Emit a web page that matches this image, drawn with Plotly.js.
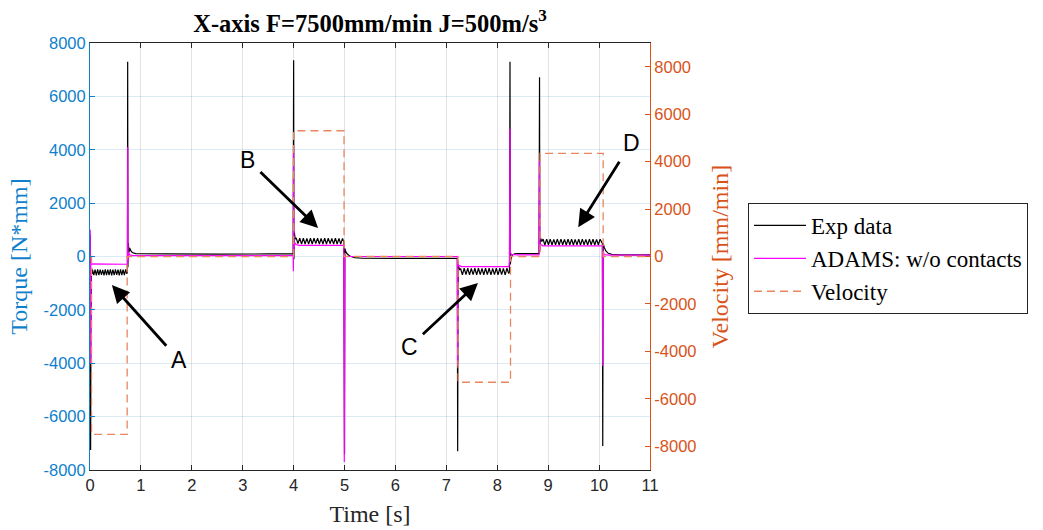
<!DOCTYPE html>
<html>
<head>
<meta charset="utf-8">
<script src="https://cdn.plot.ly/plotly-3.0.1.min.js"></script>
<style>
  html, body { margin: 0; padding: 0; background: #fff; }
  #chart { width: 1043px; height: 530px; }
</style>
</head>
<body>
<div id="chart"></div>
<script>
// ---- Data ----
const expTime = [
  0, 0.004, 0.008, 0.012, 0.018, 0.025, 0.035, 0.045,
  0.05, 0.075, 0.10, 0.125, 0.15, 0.175, 0.20, 0.225, 0.25, 0.275, 0.30, 0.325, 0.35, 0.375,
  0.40, 0.425, 0.45, 0.475, 0.50, 0.525, 0.55, 0.575, 0.60, 0.625, 0.65, 0.675, 0.70, 0.72,
  0.735, 0.74, 0.745, 0.752, 0.765, 0.78, 0.80, 0.83, 0.90, 1.5, 2.5, 3.5, 3.99,
  4.0, 4.006, 4.015, 4.03,
  4.05, 4.085, 4.12, 4.155, 4.19, 4.225, 4.26, 4.295, 4.33, 4.365, 4.40, 4.435, 4.47, 4.505,
  4.54, 4.575, 4.61, 4.645, 4.68, 4.715, 4.75, 4.785, 4.82, 4.855, 4.89, 4.925, 4.96, 4.985,
  5.0, 5.006, 5.02, 5.05, 5.10, 5.20, 5.35, 6.0, 7.2, 7.215,
  7.222, 7.23, 7.24, 7.26,
  7.28, 7.315, 7.35, 7.385, 7.42, 7.455, 7.49, 7.525, 7.56, 7.595, 7.63, 7.665, 7.70, 7.735,
  7.77, 7.805, 7.84, 7.875, 7.91, 7.945, 7.98, 8.015, 8.05, 8.085, 8.12, 8.155, 8.19, 8.225,
  8.24, 8.25, 8.256, 8.265, 8.28, 8.30, 8.34, 8.40, 8.82,
  8.83, 8.836, 8.85, 8.875,
  8.90, 8.935, 8.97, 9.005, 9.04, 9.075, 9.11, 9.145, 9.18, 9.215, 9.25, 9.285, 9.32, 9.355,
  9.39, 9.425, 9.46, 9.495, 9.53, 9.565, 9.60, 9.635, 9.67, 9.705, 9.74, 9.775, 9.81, 9.845,
  9.88, 9.915, 9.95, 9.985, 10.02, 10.055,
  10.065, 10.072, 10.08, 10.10, 10.13, 10.18, 10.25, 10.4, 11
];
const expTorque = [
  0, 820, -2000, -7250, -3000, -800, -450, -650,
  -500, -700, -490, -710, -480, -700, -490, -690, -500, -710, -480, -700, -490, -700,
  -480, -710, -490, -700, -480, -690, -490, -710, -480, -700, -490, -700, -480, -640,
  -600, 7300, -400, 500, 150, 320, 220, 150, 110, 95, 90, 95, 95,
  7350, -100, 900, 650,
  700, 480, 690, 470, 690, 470, 680, 470, 690, 470, 690, 480, 690, 470,
  680, 470, 690, 470, 690, 480, 680, 470, 690, 470, 680, 470, 680, 560,
  -7400, 300, 200, 100, 20, -40, -65, -70, -70, -70,
  -7300, -1200, -350, -500,
  -450, -690, -440, -680, -440, -690, -450, -680, -440, -690, -440, -680, -450, -690,
  -440, -680, -440, -690, -450, -680, -440, -690, -440, -680, -450, -690, -440, -640,
  -580, 7300, -300, -150, 0, 60, 100, 110, 110,
  6720, 200, 700, 560,
  650, 430, 650, 440, 650, 430, 640, 440, 650, 430, 650, 440, 640, 430,
  650, 440, 650, 430, 640, 440, 650, 430, 650, 440, 640, 430, 650, 440,
  650, 430, 640, 440, 650, 520,
  500, -7100, 500, 350, 220, 120, 80, 60, 60
];

const adamsTime = [
  0, 0.004, 0.01, 0.016, 0.03, 0.72, 0.735, 0.742, 0.748, 0.76, 0.78, 0.85,
  3.99, 3.995, 4.0, 4.006, 4.02, 4.05, 4.1, 4.985, 4.995, 5.005, 5.03,
  7.215, 7.222, 7.228, 7.24, 7.3, 8.23, 8.24, 8.25, 8.256, 8.28, 8.4,
  8.82, 8.83, 8.836, 8.85, 8.9, 10.065, 10.072, 10.08, 10.1, 10.2, 11
];
const adamsTorque = [
  0, 1000, -4000, -300, -280, -290, -290, 4100, -200, 150, 60, 35,
  30, -550, 4100, 200, 520, 450, 420, 420, -7700, 50, 0,
  0, -4100, -150, -330, -380, -380, -200, 4800, 150, 80, 60,
  60, 3600, 250, 450, 400, 400, -4100, 200, 70, 50, 50
];

const velTime = [0, 0.03, 0.03, 0.73, 0.73, 4.0, 4.0, 4.99, 4.99, 7.23, 7.23, 8.26, 8.26, 8.84, 8.84, 10.08, 10.08, 11];
const velValue = [0, 0, -7500, -7500, 0, 0, 5300, 5300, 0, 0, -5300, -5300, 0, 0, 4350, 4350, 0, 0];

const timeTicks = [0, 1, 2, 3, 4, 5, 6, 7, 8, 9, 10, 11];
const torqueTicks = [-8000, -6000, -4000, -2000, 0, 2000, 4000, 6000, 8000];
const torqueTickText = ['-8000', '-6000', '-4000', '-2000', '0', '2000', '4000', '6000', '8000'];
const velTicks = [-8000, -6000, -4000, -2000, 0, 2000, 4000, 6000, 8000];
const velTickText = ['-8000', '-6000', '-4000', '-2000', '0', '2000', '4000', '6000', '8000'];

// Labelled arrows (data units): label position and arrow head position
const labelNames = ['A', 'B', 'C', 'D'];
const labelTextX = [1.75, 3.10, 6.27, 10.63];
const labelTextY = [-3880, 3620, -3390, 4250];
const arrowHeadX = [0.43, 4.48, 7.62, 9.59];
const arrowHeadY = [-1070, 1070, -990, 1100];

// ---- Styling ----
const BLUE = '#0f7fcc';
const ORANGE = '#D95319';
const SERIF = 'Liberation Serif, Times New Roman, serif';
const SANS = 'Liberation Sans, Arial, sans-serif';

const traces = [
  {
    x: expTime, y: expTorque, type: 'scatter', mode: 'lines', name: 'Exp data',
    line: { color: '#000000', width: 1.2, simplify: false }
  },
  {
    x: adamsTime, y: adamsTorque, type: 'scatter', mode: 'lines', name: 'ADAMS: w/o contacts',
    line: { color: '#FF00FF', width: 1.2, simplify: false }
  },
  {
    x: velTime, y: velValue, type: 'scatter', mode: 'lines', name: 'Velocity', yaxis: 'y2',
    line: { color: '#E8875F', width: 1.3, dash: '8px,5px' }
  }
];

const annotations = labelNames.map((name, i) => ({
  x: arrowHeadX[i], y: arrowHeadY[i], xref: 'x', yref: 'y',
  ax: labelTextX[i], ay: labelTextY[i], axref: 'x', ayref: 'y',
  text: name, showarrow: true, arrowhead: 2, arrowsize: 1.25, arrowwidth: 2.8,
  arrowcolor: '#000000', standoff: 0, startstandoff: 5,
  font: { family: SANS, size: 23, color: '#000000' }
}));

const layout = {
  width: 1043, height: 530,
  paper_bgcolor: '#ffffff', plot_bgcolor: '#ffffff',
  margin: { l: 90, r: 393, t: 43, b: 60, pad: 0 },
  showlegend: true,
  title: {
    text: 'X-axis F=7500mm/min J=500m/s<sup>3</sup>',
    font: { family: SERIF, size: 24.5, color: '#000000', weight: 'bold' },
    x: 0.5, xref: 'paper', xanchor: 'center',
    y: 1 - 23 / 530, yref: 'container', yanchor: 'middle'
  },
  xaxis: {
    range: [0, 11], tickvals: timeTicks, ticktext: timeTicks.map(String),
    showgrid: true, gridcolor: 'rgba(38,38,38,0.13)', gridwidth: 1,
    zeroline: false, showline: true, linecolor: '#262626', linewidth: 1,
    mirror: 'ticks', ticks: 'inside', ticklen: 5, tickcolor: '#262626',
    tickfont: { family: SANS, size: 16.5, color: '#262626' },
    title: { text: 'Time [s]', font: { family: SERIF, size: 24, color: '#262626' }, standoff: 12 }
  },
  yaxis: {
    range: [-8000, 8000], tickvals: torqueTicks, ticktext: torqueTickText,
    showgrid: true, gridcolor: 'rgba(0,114,189,0.14)', gridwidth: 1,
    zeroline: false, showline: true, linecolor: BLUE, linewidth: 1,
    ticks: 'inside', ticklen: 5, tickcolor: BLUE,
    tickfont: { family: SANS, size: 16.5, color: BLUE },
    title: { text: 'Torque [N*mm]', font: { family: SERIF, size: 24, color: BLUE }, standoff: 9 }
  },
  yaxis2: {
    range: [-9000, 9000], tickvals: velTicks, ticktext: velTickText,
    overlaying: 'y', side: 'right',
    showgrid: false, zeroline: false, showline: true, linecolor: ORANGE, linewidth: 1,
    ticks: 'inside', ticklen: 5, tickcolor: ORANGE,
    tickfont: { family: SANS, size: 16.5, color: ORANGE },
    title: { text: 'Velocity [mm/min]', font: { family: SERIF, size: 24, color: ORANGE }, standoff: 15 }
  },
  legend: {
    x: (748 - 90) / 560, y: (470 - 203) / 427, xanchor: 'left', yanchor: 'top',
    xref: 'paper', yref: 'paper',
    bgcolor: '#ffffff', bordercolor: '#262626', borderwidth: 1,
    font: { family: SERIF, size: 23, color: '#000000' },
    itemwidth: 52, tracegroupgap: 0
  },
  annotations: annotations
};

Plotly.newPlot('chart', traces, layout, { displayModeBar: false, staticPlot: true });
</script>
</body>
</html>
